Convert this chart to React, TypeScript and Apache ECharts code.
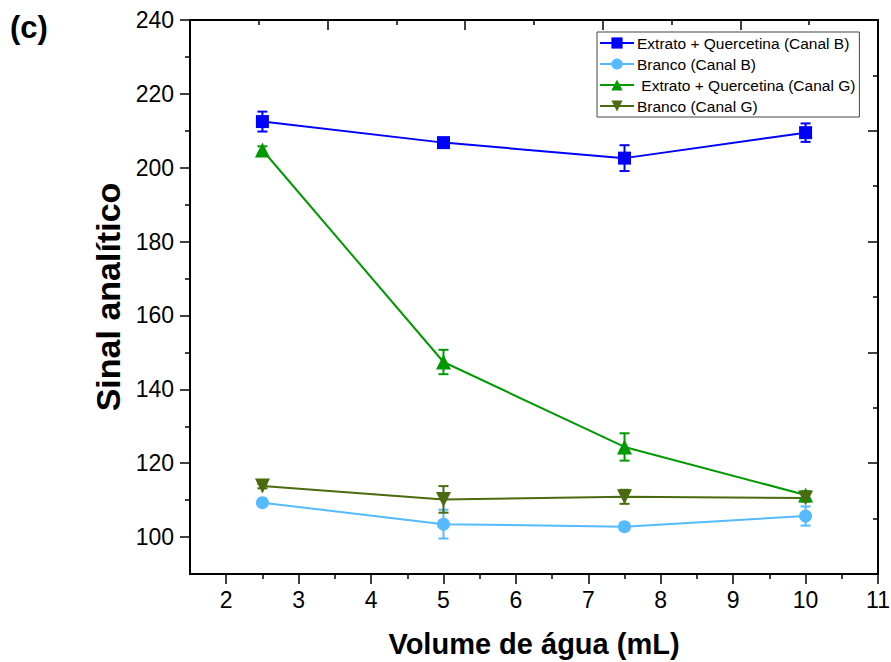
import React, { useEffect, useRef } from "react";
import * as echarts from "echarts";

const volumes = [2.5, 5, 7.5, 10];

const extratoB = [212.5, 206.8, 202.6, 209.5];
const extratoBErr = [2.7, 1.0, 3.5, 2.5];
const brancoB = [109.3, 103.5, 102.8, 105.7];
const brancoBErr = [0.8, 3.9, 1.0, 2.6];
const extratoG = [204.8, 147.4, 124.4, 111.4];
const extratoGErr = [1.0, 3.3, 3.7, 1.0];
const brancoG = [113.8, 110.2, 110.9, 110.6];
const brancoGErr = [0.6, 3.6, 1.9, 1.0];

const seriesNames = [
  "Extrato + Quercetina (Canal B)",
  "Branco (Canal B)",
  " Extrato + Quercetina (Canal G)",
  "Branco (Canal G)",
];
const colors = ["#0000ff", "#55baff", "#009a00", "#4a6b10"];

const xMajorTicks = [2, 3, 4, 5, 6, 7, 8, 9, 10, 11];
const xMinorTicks = [2.5, 3.5, 4.5, 5.5, 6.5, 7.5, 8.5, 9.5, 10.5];
const yMajorTicks = [100, 120, 140, 160, 180, 200, 220, 240];
const yMinorTicks = [110, 130, 150, 170, 190, 210, 230];

const FONT = "'Liberation Sans', Arial, sans-serif";

function lineSeries(name: string, vals: number[], color: string, symbol: string, size: number) {
  return {
    name,
    type: "line",
    xAxisIndex: 0,
    yAxisIndex: 0,
    data: volumes.map((v, i) => [v, vals[i]]),
    symbol,
    symbolSize: size,
    showSymbol: true,
    lineStyle: { color, width: 2 },
    itemStyle: { color, opacity: 1 },
    z: 3,
  };
}

function errSeries(vals: number[], errs: number[], color: string) {
  return {
    type: "custom",
    xAxisIndex: 0,
    yAxisIndex: 0,
    data: volumes.map((v, i) => [v, vals[i] - errs[i], vals[i] + errs[i]]),
    renderItem: (params: any, api: any) => {
      const x = api.value(0);
      const lo = api.coord([x, api.value(1)]);
      const hi = api.coord([x, api.value(2)]);
      const hw = 5;
      const style = { stroke: color, lineWidth: 2, fill: "none" };
      return {
        type: "group",
        children: [
          { type: "line", shape: { x1: lo[0], y1: lo[1], x2: hi[0], y2: hi[1] }, style },
          { type: "line", shape: { x1: lo[0] - hw, y1: lo[1], x2: lo[0] + hw, y2: lo[1] }, style },
          { type: "line", shape: { x1: hi[0] - hw, y1: hi[1], x2: hi[0] + hw, y2: hi[1] }, style },
        ],
      };
    },
    z: 2,
    silent: true,
    legendHoverLink: false,
  };
}

export default function App() {
  const ref = useRef<HTMLDivElement>(null);
  useEffect(() => {
    if (!ref.current) return;
    const chart = echarts.init(ref.current, undefined, { renderer: "svg" });
    const axisLine = { show: true, lineStyle: { color: "#000", width: 2 } };
    const option: any = {
      animation: false,
      backgroundColor: "#fff",
      textStyle: { fontFamily: FONT },
      grid: { left: 190, top: 20, right: 13, bottom: 88, containLabel: false, outerBoundsMode: "none" },
      xAxis: [
        {
          type: "value",
          position: "bottom",
          min: 1.5,
          max: 11,
          axisLine,
          axisTick: { show: true, customValues: xMajorTicks, length: 10, lineStyle: { color: "#000", width: 1.5 } },
          axisLabel: { show: true, customValues: xMajorTicks, fontSize: 23, color: "#000", margin: 14, fontFamily: FONT },
          splitLine: { show: false },
          name: "Volume de água (mL)",
          nameLocation: "middle",
          nameGap: 55,
          nameTextStyle: { fontSize: 29, fontWeight: "bold", color: "#000", fontFamily: FONT },
        },
        {
          type: "value",
          position: "bottom",
          min: 1.5,
          max: 11,
          axisLine: { show: false },
          axisTick: { show: true, customValues: xMinorTicks, length: 5, lineStyle: { color: "#000", width: 1.5 } },
          axisLabel: { show: false },
          splitLine: { show: false },
        },
        {
          type: "value",
          position: "top",
          min: 0,
          max: 10,
          interval: 2,
          axisLine,
          axisTick: { show: true, inside: true, length: 10, lineStyle: { color: "#000", width: 1.5 } },
          minorTick: { show: true, splitNumber: 2, length: 5, lineStyle: { color: "#000", width: 1.5 } },
          axisLabel: { show: false },
          splitLine: { show: false },
          minorSplitLine: { show: false },
        },
      ],
      yAxis: [
        {
          type: "value",
          position: "left",
          min: 90,
          max: 240,
          axisLine,
          axisTick: { show: true, customValues: yMajorTicks, length: 10, lineStyle: { color: "#000", width: 1.5 } },
          axisLabel: { show: true, customValues: yMajorTicks, fontSize: 23, color: "#000", margin: 16, fontFamily: FONT },
          splitLine: { show: false },
          name: "Sinal analítico",
          nameLocation: "middle",
          nameGap: 62,
          nameRotate: 90,
          nameTextStyle: { fontSize: 34, fontWeight: "bold", color: "#000", fontFamily: FONT },
        },
        {
          type: "value",
          position: "left",
          min: 90,
          max: 240,
          axisLine: { show: false },
          axisTick: { show: true, customValues: yMinorTicks, length: 5, lineStyle: { color: "#000", width: 1.5 } },
          axisLabel: { show: false },
          splitLine: { show: false },
        },
        {
          type: "value",
          position: "right",
          min: 0,
          max: 10,
          interval: 2,
          axisLine,
          axisTick: { show: true, inside: true, length: 10, lineStyle: { color: "#000", width: 1.5 } },
          minorTick: { show: true, splitNumber: 2, length: 5, lineStyle: { color: "#000", width: 1.5 } },
          axisLabel: { show: false },
          splitLine: { show: false },
          minorSplitLine: { show: false },
        },
      ],
      legend: {
        data: seriesNames,
        orient: "vertical",
        left: 597,
        top: 32,
        itemWidth: 34,
        itemHeight: 14,
        itemGap: 5,
        padding: [3, 4, 3, 2],
        borderColor: "#444",
        borderWidth: 1,
        backgroundColor: "#fff",
        textStyle: { fontSize: 15.5, color: "#000", fontFamily: FONT, padding: [0, 0, 0, -2] },
      },
      graphic: [
        {
          type: "text",
          left: 10,
          top: 12,
          style: { text: "(c)", fontSize: 31, fontWeight: "bold", fill: "#000", fontFamily: FONT },
        },
      ],
      series: [
        errSeries(extratoB, extratoBErr, colors[0]),
        errSeries(brancoB, brancoBErr, colors[1]),
        errSeries(extratoG, extratoGErr, colors[2]),
        errSeries(brancoG, brancoGErr, colors[3]),
        lineSeries(seriesNames[0], extratoB, colors[0], "rect", 13),
        lineSeries(seriesNames[1], brancoB, colors[1], "circle", 13),
        lineSeries(seriesNames[2], extratoG, colors[2], "triangle", 15),
        lineSeries(seriesNames[3], brancoG, colors[3], "path://M0,0 L10,0 L5,9 Z", 15),
      ],
    };
    chart.setOption(option);
    return () => chart.dispose();
  }, []);
  return (
    <div
      ref={ref}
      style={{ position: "fixed", left: 0, top: 0, width: 891, height: 662, background: "#fff" }}
    />
  );
}
